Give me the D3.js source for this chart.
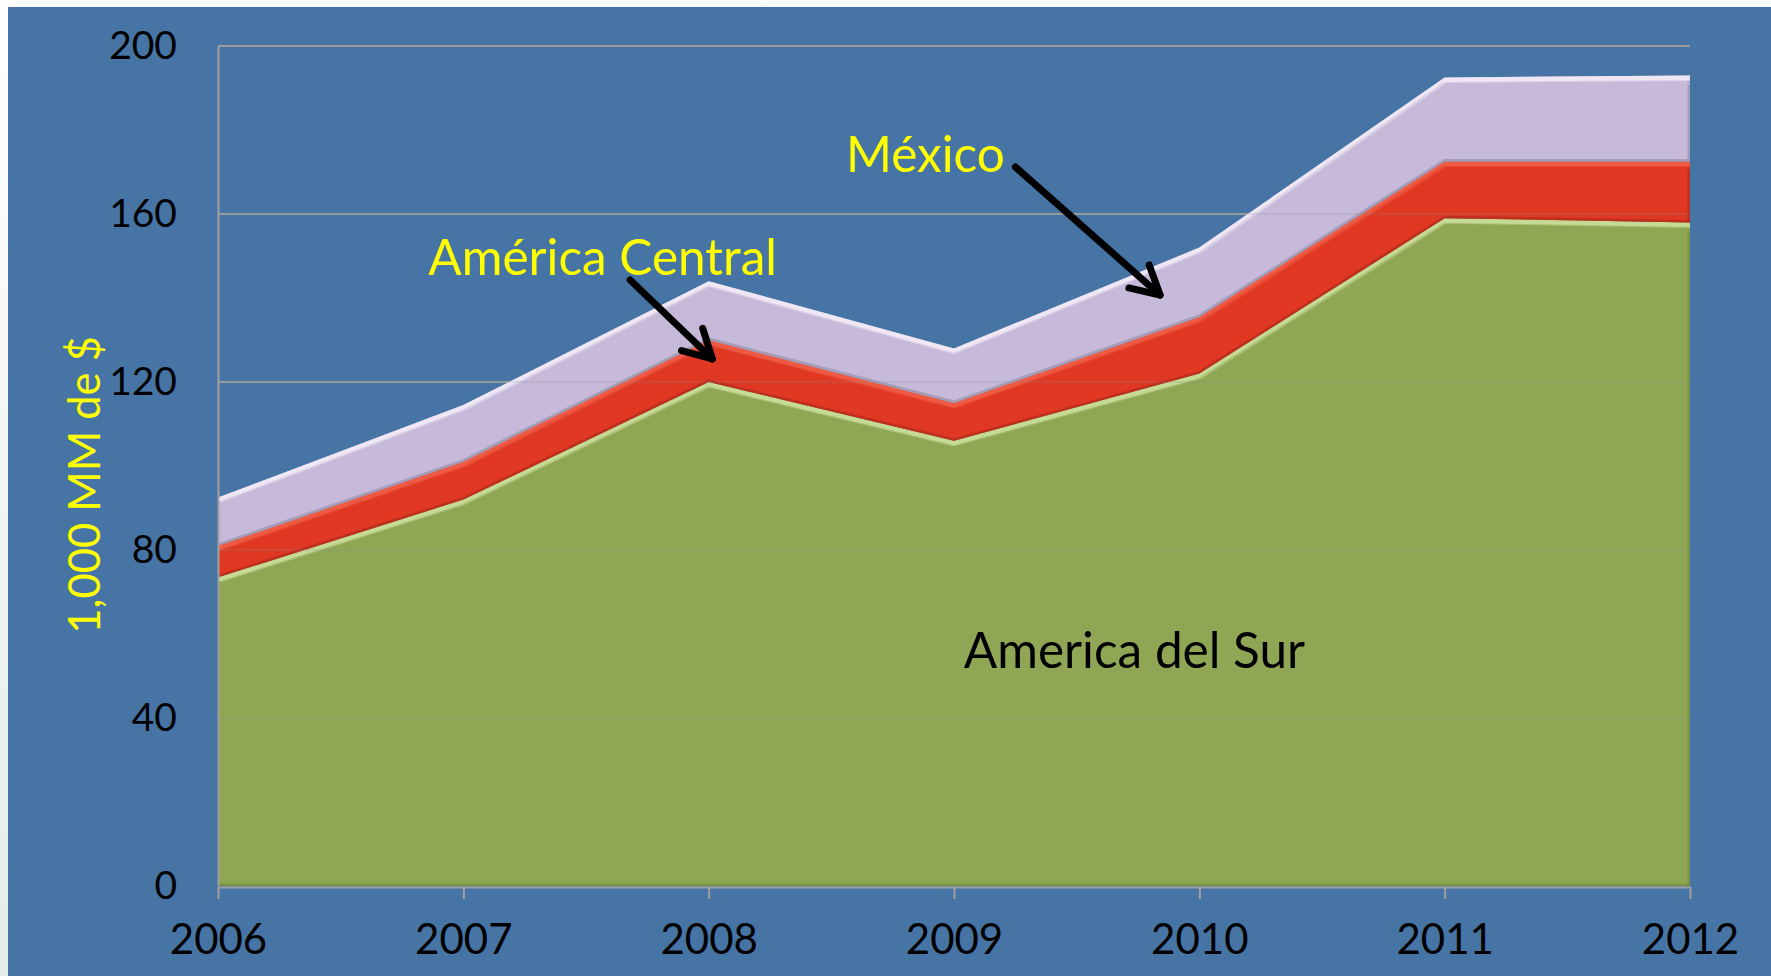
<!DOCTYPE html>
<html>
<head>
<meta charset="utf-8">
<script src="https://cdn.jsdelivr.net/npm/d3@7"></script>
<style>
  body { margin: 0; background: #ffffff; }
  text { font-family: Lato, "Open Sans", sans-serif; }
</style>
</head>
<body>
<div id="chart"></div>
<script>
// values in miles de millones de $
let years = [2006, 2007, 2008, 2009, 2010, 2011, 2012];
let sur = [73.5, 92, 120, 106, 122, 159, 158];
let central = [7.5, 9, 10, 9, 13.5, 13.5, 14.5];
let mexico = [11.5, 13.5, 14, 13, 16.5, 20, 20.5];
let yTicks = [0, 40, 80, 120, 160, 200];
let keys = ["sur", "central", "mexico"];

let W = 1771, H = 976;

let svg = d3.select("#chart").append("svg")
  .attr("width", W)
  .attr("height", H);

let defs = svg.append("defs");
let lg = defs.append("linearGradient").attr("id", "leftStrip")
  .attr("x1", 0).attr("y1", 0).attr("x2", 0).attr("y2", 1);
lg.append("stop").attr("offset", "0").attr("stop-color", "#ffffff");
lg.append("stop").attr("offset", "1").attr("stop-color", "#e4ece6");

svg.append("rect").attr("width", W).attr("height", H).attr("fill", "url(#leftStrip)");
svg.append("rect")
  .attr("x", 8).attr("y", 7)
  .attr("width", W - 8).attr("height", H - 7)
  .attr("fill", "#4674a4");

let x = d3.scaleLinear().domain([2006, 2012]).range([218, 1690]);
let y = d3.scaleLinear().domain([0, 200]).range([886, 46]);

// gridlines behind the areas
svg.append("g").selectAll("line")
  .data(yTicks.filter(d => d > 0))
  .enter().append("line")
  .attr("x1", x(2006)).attr("x2", x(2012))
  .attr("y1", d => y(d)).attr("y2", d => y(d))
  .attr("stroke", "#9c9c9c")
  .attr("stroke-width", 2);

let table = years.map((yr, i) => ({ year: yr, sur: sur[i], central: central[i], mexico: mexico[i] }));
let stacked = d3.stack().keys(keys)(table);

let fills = { sur: "#8fa654", central: "#e03822", mexico: "#c6b9d9" };
let lights = { sur: "#cfe3a0", central: "#f0604a", mexico: "#f6eef8" };
let darks = { sur: "#6f8a3a", central: "#a82a1a", mexico: "#8c8aa0" };

let area = d3.area()
  .x(d => x(d.data.year))
  .y0(d => y(d[0]))
  .y1(d => y(d[1]));

let topLine = d3.line()
  .x(d => x(d.data.year))
  .y(d => y(d[1]));

let layers = svg.append("g");

stacked.forEach(function (s, i) {
  defs.append("clipPath").attr("id", "clip" + i)
    .append("path").attr("d", area(s));

  layers.append("path")
    .attr("d", area(s))
    .attr("fill", fills[s.key]);

  let g = layers.append("g").attr("clip-path", "url(#clip" + i + ")");
  // dark rim at the lower edge and right end of the layer
  g.append("path")
    .attr("d", d3.line().x(d => x(d.data.year)).y(d => y(d[0]))(s))
    .attr("fill", "none")
    .attr("stroke", darks[s.key])
    .attr("stroke-width", 5)
    .attr("opacity", 0.6);
  let last = s[s.length - 1];
  g.append("line")
    .attr("x1", x(last.data.year)).attr("x2", x(last.data.year))
    .attr("y1", y(last[0])).attr("y2", y(last[1]))
    .attr("stroke", darks[s.key])
    .attr("stroke-width", 5)
    .attr("opacity", 0.6);
  // light bevel along the top edge
  g.append("path")
    .attr("d", topLine(s))
    .attr("fill", "none")
    .attr("stroke", lights[s.key])
    .attr("stroke-width", 11)
    .attr("opacity", 0.85);
  g.append("path")
    .attr("d", topLine(s))
    .attr("fill", "none")
    .attr("stroke", fills[s.key])
    .attr("stroke-width", 5)
    .attr("transform", "translate(0,7)")
    .attr("opacity", 0.5);
});

// faint gridlines showing through the areas
svg.append("g").selectAll("line")
  .data(yTicks.filter(d => d > 0 && d < 200))
  .enter().append("line")
  .attr("x1", x(2006)).attr("x2", x(2012))
  .attr("y1", d => y(d)).attr("y2", d => y(d))
  .attr("stroke", "#7f8fa0")
  .attr("stroke-width", 1.2)
  .attr("opacity", 0.35);

// axes
let yAxis = d3.axisLeft(y).tickValues(yTicks).tickSize(0).tickPadding(41);
let gy = svg.append("g").attr("transform", "translate(" + x(2006) + ",0)").call(yAxis);
gy.select(".domain").attr("stroke", "#a0a0a0").attr("stroke-width", 2);
gy.selectAll("text").attr("font-size", 39).attr("fill", "#000").attr("font-family", "Lato");

let xAxis = d3.axisBottom(x).tickValues(years).tickFormat(d3.format("d")).tickSize(12).tickSizeOuter(0).tickPadding(25);
let gx = svg.append("g").attr("transform", "translate(0," + (y(0) + 1) + ")").call(xAxis);
gx.select(".domain").attr("stroke", "#a0a0a0").attr("stroke-width", 2);
gx.selectAll(".tick line").attr("stroke", "#a0a0a0").attr("stroke-width", 2);
gx.selectAll("text").attr("font-size", 42).attr("fill", "#000").attr("font-family", "Lato");

// y title
svg.append("text")
  .attr("transform", "translate(100," + y(95.5) + ") rotate(-90)")
  .attr("text-anchor", "middle")
  .attr("font-size", 43.5)
  .attr("fill", "#ffff00")
  .text("1,000 MM de $");

// series labels, placed in data space
let labels = [
  { text: "América Central", year: 2006.857, val: 145.5, color: "#ffff00" },
  { text: "México", year: 2008.56, val: 170, color: "#ffff00" },
  { text: "America del Sur", year: 2009.04, val: 51.9, color: "#000000" }
];
svg.append("g").selectAll("text")
  .data(labels)
  .enter().append("text")
  .attr("x", d => x(d.year))
  .attr("y", d => y(d.val))
  .attr("font-size", 49.5)
  .attr("fill", d => d.color)
  .text(d => d.text);

// arrows: tail and tip in data space, open chevron heads
let arrows = [
  { from: [2007.68, 144.3], to: [2008.015, 125.5] },
  { from: [2009.25, 171.2], to: [2009.84, 140.7] }
];
let ag = svg.append("g")
  .attr("stroke", "#000")
  .attr("stroke-width", 7)
  .attr("stroke-linecap", "round")
  .attr("stroke-linejoin", "round")
  .attr("fill", "none");
arrows.forEach(function (a) {
  let x1 = x(a.from[0]), y1 = y(a.from[1]);
  let x2 = x(a.to[0]), y2 = y(a.to[1]);
  let ang = Math.atan2(y2 - y1, x2 - x1);
  let len = 32, spread = 0.5;
  let p1 = [x2 - len * Math.cos(ang - spread), y2 - len * Math.sin(ang - spread)];
  let p2 = [x2 - len * Math.cos(ang + spread), y2 - len * Math.sin(ang + spread)];
  ag.append("line").attr("x1", x1).attr("y1", y1).attr("x2", x2).attr("y2", y2);
  ag.append("path").attr("d", d3.line()([p1, [x2, y2], p2]));
});
</script>
</body>
</html>
